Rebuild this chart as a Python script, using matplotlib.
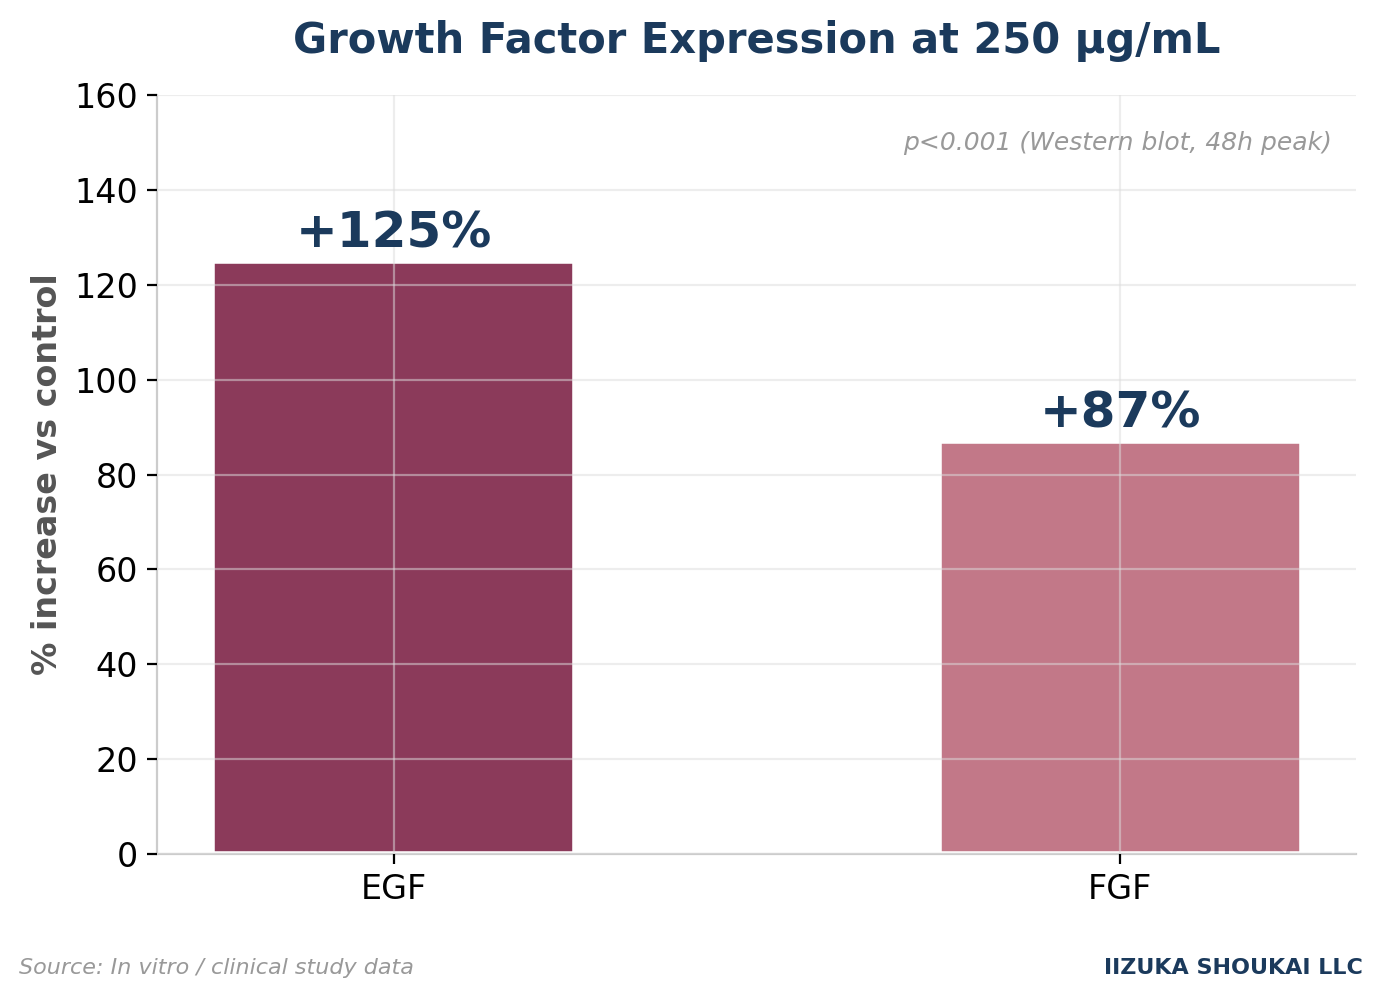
import matplotlib
matplotlib.use("Agg")
import matplotlib.pyplot as plt

categories = ["EGF", "FGF"]
values = [125, 87]
labels = ["+125%", "+87%"]
colors = ["#8B3A5A", "#C27888"]

fig = plt.figure(figsize=(6.92, 4.995), dpi=200)
ax = fig.add_axes([0.1138, 0.1451, 0.8662, 0.7598])

ax.bar(range(len(categories)), values, width=0.5, color=colors,
       edgecolor="white", linewidth=2.0, zorder=2)
ax.set_axisbelow(False)
ax.grid(True, color="#dddddd", alpha=0.5, linewidth=0.8, zorder=3)
ax.set_ylim(0, 160)
ax.set_xticks(range(len(categories)))
ax.set_xticklabels(categories, fontsize=12)
ax.tick_params(axis="y", labelsize=12)
for i, (v, lab) in enumerate(zip(values, labels)):
    ax.text(i, v + 0.8, lab, ha="center", va="bottom", fontsize=18,
            fontweight="bold", color="#1B3A5C", zorder=4)

ax.set_ylabel("% increase vs control", fontsize=12, fontweight="bold",
              color="#555555", labelpad=3.5)
ax.set_title("Growth Factor Expression at 250 μg/mL", fontsize=15,
             fontweight="bold", color="#1B3A5C", pad=15)
ax.text(0.98, 0.952, "p<0.001 (Western blot, 48h peak)", transform=ax.transAxes,
        ha="right", va="top", fontsize=9, style="italic", color="#999999")

for s in ["top", "right"]:
    ax.spines[s].set_visible(False)
for s in ["left", "bottom"]:
    ax.spines[s].set_color("#cccccc")

fig.text(0.014, 0.031, "Source: In vitro / clinical study data", fontsize=8,
         style="italic", color="#999999", ha="left", va="center")
fig.text(0.985, 0.031, "IIZUKA SHOUKAI LLC", fontsize=8, fontweight="bold",
         color="#1B3A5C", ha="right", va="center")

fig.savefig("out.png", dpi=200)
